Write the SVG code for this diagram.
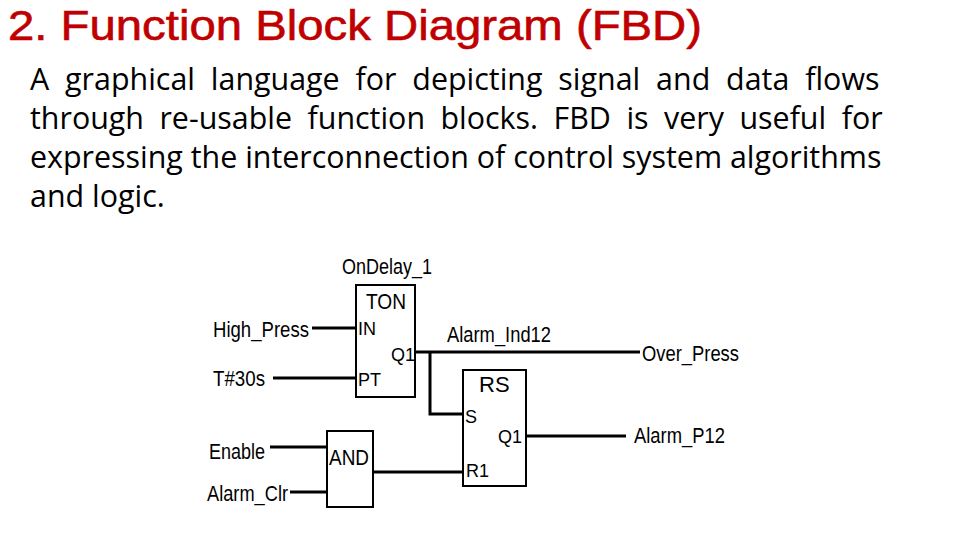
<svg xmlns="http://www.w3.org/2000/svg" width="960" height="540" viewBox="0 0 960 540">
<style>
.t{font-family:"Open Sans","DejaVu Sans",sans-serif;font-size:30.4px;fill:#000}
.l{font-family:"Liberation Sans",Arial,sans-serif;font-size:22px;fill:#000}
.p{font-family:"Liberation Sans",Arial,sans-serif;font-size:18px;fill:#000}
.b{fill:#fff;stroke:#000;stroke-width:2}
.w{stroke:#000;stroke-width:3;fill:none}
</style>
<rect width="960" height="540" fill="#fff"/>
<text x="8" y="40" font-family="Liberation Sans,Arial,sans-serif" font-size="42" fill="#c00000" stroke="#c00000" stroke-width="0.6" textLength="694" lengthAdjust="spacingAndGlyphs">2. Function Block Diagram (FBD)</text>
<text class="t" x="30" y="90" word-spacing="8">A graphical language for depicting signal and data flows</text>
<text class="t" x="30" y="129" word-spacing="7.6">through re-usable function blocks. FBD is very useful for</text>
<text class="t" x="30" y="168">expressing the interconnection of control system algorithms</text>
<text class="t" x="30" y="207">and logic.</text>
<g id="connectors">
<path class="w" d="M312 328H356M273 378H356M415 352H640M430 352V414H463M526 436H626M270 447H327M290 492H327M373 472H463"/>
</g>
<g id="ton">
<text class="l" x="342" y="274" textLength="90" lengthAdjust="spacingAndGlyphs">OnDelay_1</text>
<rect class="b" x="356" y="285" width="59" height="112"/>
<text class="l" x="366" y="309" textLength="40" lengthAdjust="spacingAndGlyphs">TON</text>
<text class="p" x="358" y="335">IN</text>
<text class="p" x="358" y="386">PT</text>
<text class="p" x="391" y="361">Q1</text>
</g>
<g id="rs">
<rect class="b" x="463" y="370" width="63" height="116"/>
<text class="l" x="479" y="392">RS</text>
<text class="p" x="465" y="423">S</text>
<text class="p" x="498" y="443">Q1</text>
<text class="p" x="466" y="477">R1</text>
</g>
<g id="and">
<rect class="b" x="327" y="431" width="46" height="76"/>
<text class="l" x="329" y="465" textLength="40" lengthAdjust="spacingAndGlyphs">AND</text>
</g>
<g id="labels">
<text class="l" x="213" y="337" textLength="96" lengthAdjust="spacingAndGlyphs">High_Press</text>
<text class="l" x="213" y="386" textLength="52" lengthAdjust="spacingAndGlyphs">T#30s</text>
<text class="l" x="447" y="342" textLength="104" lengthAdjust="spacingAndGlyphs">Alarm_Ind12</text>
<text class="l" x="642" y="361" textLength="97" lengthAdjust="spacingAndGlyphs">Over_Press</text>
<text class="l" x="634" y="443" textLength="91" lengthAdjust="spacingAndGlyphs">Alarm_P12</text>
<text class="l" x="209" y="459" textLength="56" lengthAdjust="spacingAndGlyphs">Enable</text>
<text class="l" x="207" y="501" textLength="81" lengthAdjust="spacingAndGlyphs">Alarm_Clr</text>
</g>
</svg>
